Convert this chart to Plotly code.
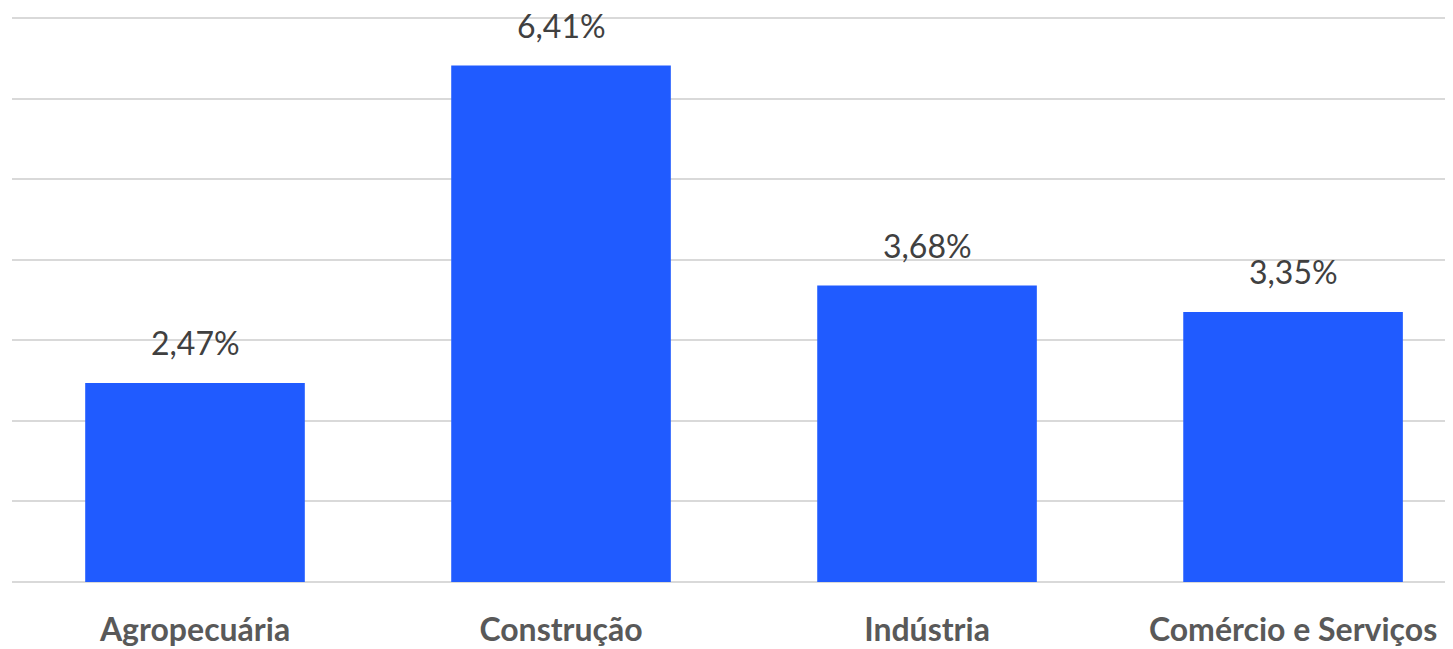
import plotly.graph_objects as go

categories = ["Agropecuária", "Construção", "Indústria", "Comércio e Serviços"]
values = [2.47, 6.41, 3.68, 3.35]
labels = [f"{v:.2f}%".replace(".", ",") for v in values]

fig = go.Figure()
fig.add_trace(go.Bar(
    x=categories, y=values, width=0.6,
    marker=dict(color="#205BFF", line=dict(width=0)),
    hoverinfo="skip",
))
for c, v, t in zip(categories, values, labels):
    fig.add_annotation(x=c, y=v, text=t, showarrow=False, yanchor="bottom", yshift=19,
                       font=dict(family="Lato", size=32, color="#404040"))

# page body has an 8px margin, so the figure is shrunk by 8px on each axis
fig.update_layout(
    width=1445, height=641,
    margin=dict(l=4, r=0, t=6, b=67),
    plot_bgcolor="white", paper_bgcolor="white",
    showlegend=False,
    bargap=0.4,
    xaxis=dict(range=[-0.5, 3.437], showgrid=False, showline=False, zeroline=False,
               ticks="", ticklabelstandoff=26, automargin=False,
               tickfont=dict(family="Lato", size=32, color="#595959", weight="bold")),
    yaxis=dict(range=[0, 7.05], tickvals=[0, 1, 2, 3, 4, 5, 6, 7], showticklabels=False,
               showgrid=True, gridcolor="#d9d9d9", gridwidth=2, zeroline=True,
               zerolinecolor="#d9d9d9", zerolinewidth=2, showline=False, automargin=False),
)
fig.write_html("out.html")
